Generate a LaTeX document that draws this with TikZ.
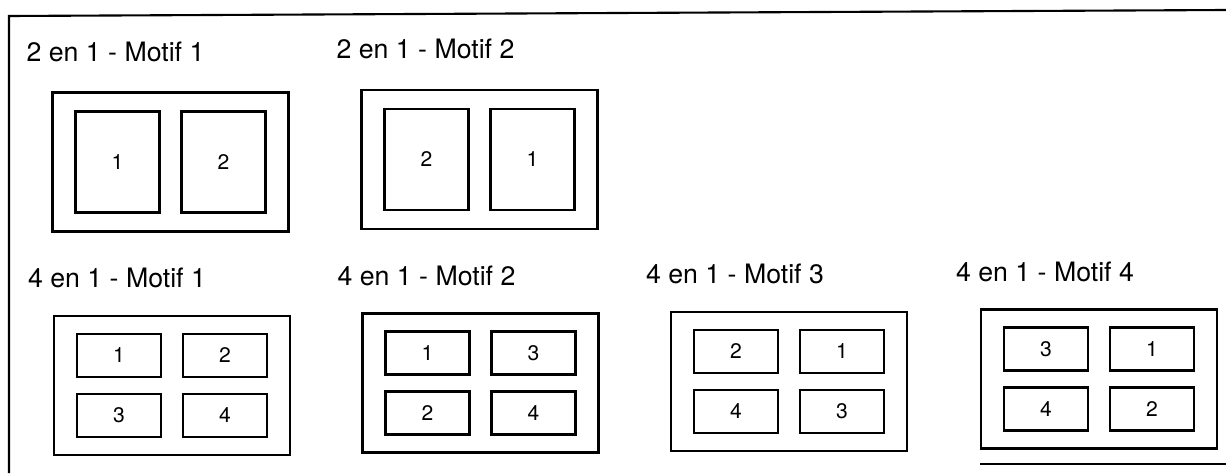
\documentclass[tikz,border=0pt]{standalone}
\usepackage{fontspec}
\setmainfont{TeX Gyre Heros}
\usetikzlibrary{positioning}
\tikzset{
  frameline/.style={draw, line width=1.5pt},
  sheet/.style={draw, line width=1.8pt, inner sep=0pt, minimum width=59mm, minimum height=34.75mm},
  tallpage/.style={draw, line width=1.8pt, inner sep=0pt, minimum width=21mm, minimum height=25.25mm,
    font=\fontsize{15}{17}\selectfont},
  widepage/.style={draw, line width=1.8pt, inner sep=0pt, minimum width=21mm, minimum height=10.75mm,
    font=\fontsize{15}{17}\selectfont},
  motif/.style={inner sep=0pt, anchor=base west, font=\fontsize{19}{21}\selectfont}
}

\begin{document}
\begin{tikzpicture}[x=0.25mm, y=-0.25mm]
\useasboundingbox (0,0) rectangle (1226,473);
% frame
\draw[frameline] (9,473) -- (9,16) -- (1226,10);
\draw[frameline] (980,464) -- (1226,464);

% 2 en 1
\node[sheet] (two1) at (170.5,162) {};
\node[tallpage] (two1a) at ([shift={(-53,0)}]two1.center) {1};
\node[tallpage] (two1b) at ([shift={(53,0)}]two1.center) {2};
\node[motif, above=7.5mm of two1.north west, anchor=base west, xshift=-6.25mm] (lbltwo1) {2 en 1 - Motif 1};

\node[sheet] (two2) at (479.5,159.5) {};
\node[tallpage] (two2a) at ([shift={(-53,0)}]two2.center) {2};
\node[tallpage] (two2b) at ([shift={(53,0)}]two2.center) {1};
\node[motif, above=7.5mm of two2.north west, anchor=base west, xshift=-6mm] (lbltwo2) {2 en 1 - Motif 2};

% 4 en 1
\node[sheet] (four1) at (172,385.5) {};
\node[widepage] (four1a) at ([shift={(-53,-30)}]four1.center) {1};
\node[widepage] (four1b) at ([shift={(53,-30)}]four1.center) {2};
\node[widepage] (four1c) at ([shift={(-53,30)}]four1.center) {3};
\node[widepage] (four1d) at ([shift={(53,30)}]four1.center) {4};
\node[motif, above=6.75mm of four1.north west, anchor=base west, xshift=-6.25mm] (lblfour1) {4 en 1 - Motif 1};

\node[sheet] (four2) at (480.5,383) {};
\node[widepage] (four2a) at ([shift={(-53,-30)}]four2.center) {1};
\node[widepage] (four2b) at ([shift={(53,-30)}]four2.center) {3};
\node[widepage] (four2c) at ([shift={(-53,30)}]four2.center) {2};
\node[widepage] (four2d) at ([shift={(53,30)}]four2.center) {4};
\node[motif, above=6.75mm of four2.north west, anchor=base west, xshift=-6mm] (lblfour2) {4 en 1 - Motif 2};

\node[sheet] (four3) at (789,381.5) {};
\node[widepage] (four3a) at ([shift={(-53,-30)}]four3.center) {2};
\node[widepage] (four3b) at ([shift={(53,-30)}]four3.center) {1};
\node[widepage] (four3c) at ([shift={(-53,30)}]four3.center) {4};
\node[widepage] (four3d) at ([shift={(53,30)}]four3.center) {3};
\node[motif, above=6.75mm of four3.north west, anchor=base west, xshift=-6mm] (lblfour3) {4 en 1 - Motif 3};

\node[sheet] (four4) at (1099,379) {};
\node[widepage] (four4a) at ([shift={(-53,-30)}]four4.center) {3};
\node[widepage] (four4b) at ([shift={(53,-30)}]four4.center) {1};
\node[widepage] (four4c) at ([shift={(-53,30)}]four4.center) {4};
\node[widepage] (four4d) at ([shift={(53,30)}]four4.center) {2};
\node[motif, above=6.75mm of four4.north west, anchor=base west, xshift=-6mm] (lblfour4) {4 en 1 - Motif 4};
\end{tikzpicture}
\end{document}
